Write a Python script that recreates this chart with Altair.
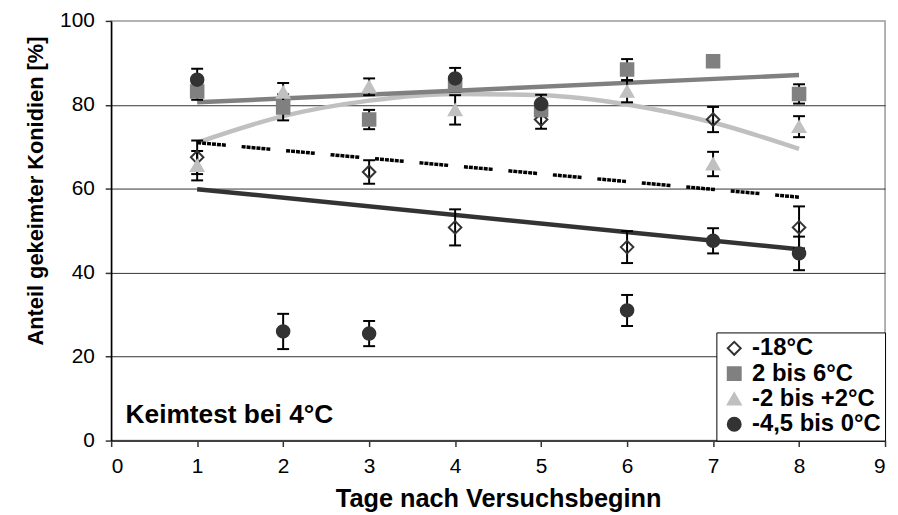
import altair as alt
import pandas as pd

# ---------------- data ----------------
days = [1, 2, 3, 4, 5, 6, 7, 8]
series_names = ["-18°C", "2 bis 6°C", "-2 bis +2°C", "-4,5 bis 0°C"]

m18_mean = [67.5, None, 64.0, 50.8, 76.5, 46.1, 76.5, 50.8]
m18_err = [4.0, None, 2.8, 4.3, 2.2, 3.8, 3.0, 5.0]
s26_mean = [83.2, 79.4, 76.5, 84.7, 78.8, 88.4, 90.4, 82.6]
s26_err = [2.0, 3.1, 2.3, 1.5, 1.5, 2.5, 1.0, 2.3]
t22_mean = [65.5, 83.0, 84.3, 78.8, None, 83.2, 65.9, 74.8]
t22_err = [3.5, 2.2, 2.0, 3.5, None, 2.6, 2.9, 2.5]
c45_mean = [86.0, 26.0, 25.5, 86.3, 80.2, 31.0, 47.6, 44.6]
c45_err = [2.6, 4.2, 3.0, 2.5, 2.2, 3.7, 3.0, 4.0]

# trend lines
trend_lin_days = [1, 8]
m18_trend = [71.0, 58.0]
s26_trend = [80.6, 87.1]
c45_trend = [59.9, 45.6]
t22_trend = [71.0, 77.3, 81.0, 82.6, 82.3, 80.1, 75.8, 69.5]

x_ticks = [0, 1, 2, 3, 4, 5, 6, 7, 8, 9]
y_ticks = [0, 20, 40, 60, 80, 100]

x_title = "Tage nach Versuchsbeginn"
y_title = "Anteil gekeimter Konidien [%]"
note_text = "Keimtest bei 4°C"

# ---------------- tables ----------------
rows = []
for name, means, errs in zip(series_names,
                             [m18_mean, s26_mean, t22_mean, c45_mean],
                             [m18_err, s26_err, t22_err, c45_err]):
    for d, m, e in zip(days, means, errs):
        if m is None:
            continue
        rows.append({"series": name, "day": d, "mean": m,
                     "lo": m - e, "hi": m + e})
pts = pd.DataFrame(rows)

lin = pd.DataFrame({"day": trend_lin_days, "m18": m18_trend,
                    "s26": s26_trend, "c45": c45_trend})
curve = pd.DataFrame({"day": days, "t22": t22_trend})

FONT = "Liberation Sans"
xs = alt.Scale(domain=[0, 9], nice=False)
ys = alt.Scale(domain=[0, 100], nice=False)

x_axis = alt.Axis(values=x_ticks, format="d", title=x_title, grid=False,
                  labelFontSize=21, labelFont=FONT, labelColor="black",
                  labelPadding=9, tickSize=6, tickWidth=1.5, tickColor="#333",
                  domainColor="#404040", domainWidth=2,
                  titleFont=FONT, titleFontSize=25.5, titleFontWeight="bold",
                  titleColor="black", titleY=46)
y_axis = alt.Axis(values=y_ticks, format="d", title=y_title,
                  grid=True, gridColor="#333", gridWidth=1,
                  gridOpacity={"condition": {"test": "datum.value === 0 || datum.value === 100",
                                             "value": 0}, "value": 1},
                  labelFontSize=21, labelFont=FONT, labelColor="black",
                  labelPadding=11, tickSize=6, tickWidth=1.5, tickColor="#333",
                  domainColor="black", domainWidth=1.5,
                  titleFont=FONT, titleFontSize=22, titleFontWeight="bold",
                  titleColor="black", titleX=-64, titleY=171)

base_x = alt.X("day:Q", scale=xs, axis=x_axis)

# trend lines
tri_line = alt.Chart(curve).mark_line(color="#c0c0c0", strokeWidth=4.5,
                                      interpolate="monotone").encode(
    x=base_x, y=alt.Y("t22:Q", scale=ys, axis=y_axis))
sq_line = alt.Chart(lin).mark_line(color="#808080", strokeWidth=4.5).encode(
    x="day:Q", y="s26:Q")
ci_line = alt.Chart(lin).mark_line(color="#333333", strokeWidth=4.5).encode(
    x="day:Q", y="c45:Q")
di_line = alt.Chart(lin).mark_line(
    color="black", strokeWidth=3.5,
    strokeDash=[4, 1, 4, 1, 4, 1, 4, 1, 4, 1, 4, 16]).encode(
    x="day:Q", y="m18:Q")

# error bars
err_stem = alt.Chart(pts).mark_rule(color="black", strokeWidth=2).encode(
    x="day:Q", y="lo:Q", y2="hi:Q")
err_lo = alt.Chart(pts).mark_tick(orient="horizontal", size=12, thickness=2,
                                  color="black", opacity=1).encode(
    x="day:Q", y="lo:Q")
err_hi = alt.Chart(pts).mark_tick(orient="horizontal", size=12, thickness=2,
                                  color="black", opacity=1).encode(
    x="day:Q", y="hi:Q")

legend = alt.Legend(title=None, orient="bottom-right", offset=0,
                    fillColor="white", strokeColor="black",
                    padding=4, rowPadding=1.5,
                    labelFont=FONT, labelFontSize=24, labelFontWeight="bold",
                    labelColor="black", labelOffset=6, symbolOffset=2,
                    symbolSize=170, symbolStrokeWidth=2)
sdom = series_names
points = alt.Chart(pts).mark_point(filled=True, opacity=1, strokeWidth=2,
                                   size=160).encode(
    x="day:Q", y="mean:Q",
    shape=alt.Shape("series:N", scale=alt.Scale(
        domain=sdom, range=["diamond", "square", "triangle-up", "circle"]),
        legend=legend, sort=sdom),
    fill=alt.Fill("series:N", scale=alt.Scale(
        domain=sdom, range=["transparent", "#808080", "#c0c0c0", "#333333"]),
        legend=legend, sort=sdom),
    stroke=alt.Stroke("series:N", scale=alt.Scale(
        domain=sdom, range=["#333333", "#808080", "#c0c0c0", "#333333"]),
        legend=legend, sort=sdom),
)

note = alt.Chart(pd.DataFrame({"t": [note_text]})).mark_text(
    align="left", baseline="alphabetic", font=FONT, fontSize=26.5,
    fontWeight="bold", color="black").encode(
    x=alt.value(14.5), y=alt.value(405), text="t:N")

chart = alt.layer(tri_line, sq_line, ci_line, di_line,
                  err_stem, err_lo, err_hi, points, note).properties(
    width=780, height=423,
    autosize=alt.AutoSizeParams(type="none"),
    padding={"left": 104, "top": 11, "right": 5, "bottom": 73},
    background="white",
).configure_view(stroke="#999999", strokeWidth=1.5)

chart.save("out.html", embed_options={"renderer": "svg", "actions": False})
